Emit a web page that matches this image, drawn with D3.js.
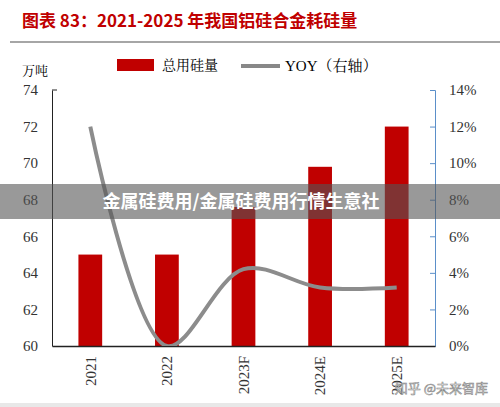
<!DOCTYPE html>
<html><head><meta charset="utf-8">
<script src="https://cdn.jsdelivr.net/npm/d3@7"></script>
<style>body{margin:0;background:#fff}</style>
</head><body>
<svg id="c" width="500" height="407"></svg>
<script>
const years = ["2021", "2022", "2023F", "2024E", "2025E"];
const siUse = [65, 65, 67.6, 69.8, 72];
const yoy = [0.12, 0.0, 0.042, 0.032, 0.032];
const leftTicks = [60, 62, 64, 66, 68, 70, 72, 74];
const rightTicks = [0, 0.02, 0.04, 0.06, 0.08, 0.10, 0.12, 0.14];

const svg = d3.select("#c");
const serif = "'Liberation Serif','Noto Serif CJK SC','Noto Sans CJK SC',serif";
const m = { left: 52, right: 435, top: 90, bottom: 346 };

svg.append("text").attr("x", 22).attr("y", 27).attr("fill", "#c00000")
  .attr("font-family", "'Noto Sans CJK SC'").attr("font-weight", "bold").attr("font-size", 17)
  .text("图表 83：2021-2025 年我国铝硅合金耗硅量");
svg.append("line").attr("x1", 10).attr("x2", 500).attr("y1", 42).attr("y2", 42)
  .attr("stroke", "#888").attr("stroke-width", 1.5);

const x = d3.scaleBand().domain(years).range([m.left, m.right]).paddingInner(0.69).paddingOuter(0.345);
const yL = d3.scaleLinear().domain([60, 74]).range([m.bottom, m.top]);
const yR = d3.scaleLinear().domain([0, 0.14]).range([m.bottom, m.top]);

// legend
svg.append("rect").attr("x", 117).attr("y", 59).attr("width", 37).attr("height", 12).attr("fill", "#c00000");
svg.append("text").attr("x", 162).attr("y", 70).attr("font-family", serif).attr("font-size", 14).text("总用硅量");
svg.append("line").attr("x1", 241).attr("x2", 280).attr("y1", 66).attr("y2", 66).attr("stroke", "#888").attr("stroke-width", 4);
svg.append("text").attr("x", 285).attr("y", 71).attr("font-family", serif).attr("font-size", 15).text("YOY（右轴）");
svg.append("text").attr("x", 22).attr("y", 75).attr("font-family", serif).attr("font-size", 13).text("万吨");

svg.selectAll(".bar").data(siUse).enter().append("rect")
  .attr("x", (d, i) => x(years[i])).attr("width", x.bandwidth())
  .attr("y", d => yL(d)).attr("height", d => yL(60) - yL(d)).attr("fill", "#c00000");

const gl = svg.append("g").attr("transform", `translate(${m.left},0)`)
  .call(d3.axisLeft(yL).tickValues(leftTicks).tickSize(0).tickPadding(14));
gl.selectAll("text").attr("font-family", serif).attr("font-size", 15).attr("fill", "#333");
gl.select(".domain").attr("stroke", "#222");
svg.append("line").attr("x1", m.left).attr("x2", m.left + 5).attr("y1", m.top).attr("y2", m.top).attr("stroke", "#222");

const gr = svg.append("g").attr("transform", `translate(${m.right},0)`)
  .call(d3.axisRight(yR).tickValues(rightTicks).tickSize(-5).tickPadding(14).tickFormat(d3.format(".0%")));
gr.selectAll("text").attr("font-family", serif).attr("font-size", 15).attr("fill", "#333");
gr.selectAll("line,.domain").attr("stroke", "#5b8fc9");

const gb = svg.append("g").attr("transform", `translate(0,${m.bottom})`)
  .call(d3.axisBottom(x).tickSize(0));
gb.select(".domain").attr("stroke", "#222").attr("stroke-width", 1.5);
gb.selectAll(".tick text").attr("font-family", serif).attr("font-size", 15).attr("fill", "#333")
  .attr("transform", "rotate(-90)").attr("text-anchor", "end").attr("x", -10).attr("y", 0).attr("dy", "0.35em");

svg.append("clipPath").attr("id", "cp").append("rect").attr("x", m.left).attr("y", 0).attr("width", m.right - m.left).attr("height", m.bottom);
svg.append("path").datum(yoy).attr("clip-path", "url(#cp)")
  .attr("d", d3.line().x((d, i) => x(years[i]) + x.bandwidth() / 2).y(d => yR(d)).curve(d3.curveCatmullRom.alpha(0.5)))
  .attr("fill", "none").attr("stroke", "#8c8c8c").attr("stroke-width", 4);

// overlay banner & watermark
svg.append("rect").attr("x", 0).attr("y", 184).attr("width", 500).attr("height", 35).attr("fill", "#555").attr("opacity", 0.6);
svg.append("text").attr("x", 241).attr("y", 208).attr("text-anchor", "middle").attr("fill", "#fff")
  .attr("font-family", "'Noto Sans CJK SC'").attr("font-weight", "bold").attr("font-size", 18)
  .text("金属硅费用/金属硅费用行情生意社");
svg.append("text").attr("x", 488).attr("y", 393).attr("text-anchor", "end").attr("fill", "#fff")
  .attr("stroke", "#888").attr("stroke-width", 0.6).attr("font-family", "'Noto Sans CJK SC'").attr("font-size", 13)
  .text("知乎 @未来智库");
svg.append("rect").attr("x", 0).attr("y", 403).attr("width", 500).attr("height", 4).attr("fill", "#e8e8e8");
</script>
</body></html>
